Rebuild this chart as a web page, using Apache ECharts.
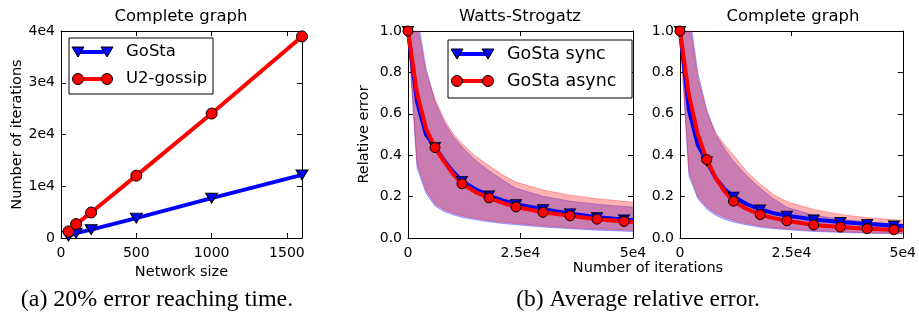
<!DOCTYPE html>
<html>
<head>
<meta charset="utf-8">
<script src="https://cdn.jsdelivr.net/npm/echarts@6/dist/echarts.min.js"></script>
<style>
html, body { margin: 0; padding: 0; background: #fff; }
#chart { width: 919px; height: 313px; }
</style>
</head>
<body>
<div id="chart"></div>
<script>
// (a) iterations needed to reach 20% error, complete graph
var networkSize = [50, 100, 200, 500, 1000, 1600];
var gostaIter = [380, 960, 1620, 3850, 7700, 12200];
var u2Iter = [1270, 2690, 4920, 12050, 24050, 38950];

// (b) average relative error vs iterations
var iterations = [0, 2000, 4000, 6000, 8000, 10000, 12000, 15000, 18000, 21000, 24000, 30000, 36000, 42000, 48000, 50000];

// Watts-Strogatz
var wsSyncMean  = [1.0, 0.66, 0.50, 0.44, 0.375, 0.32, 0.276, 0.235, 0.205, 0.182, 0.163, 0.139, 0.119, 0.100, 0.089, 0.086];
var wsSyncLow   = [1.0, 0.34, 0.215, 0.155, 0.128, 0.112, 0.100, 0.088, 0.078, 0.070, 0.064, 0.053, 0.045, 0.038, 0.033, 0.031];
var wsSyncHigh  = [1.0, 1.08, 0.82, 0.66, 0.56, 0.49, 0.44, 0.375, 0.325, 0.28, 0.24, 0.202, 0.178, 0.163, 0.152, 0.15];
var wsAsyncMean = [1.0, 0.70, 0.53, 0.437, 0.37, 0.31, 0.262, 0.222, 0.194, 0.170, 0.150, 0.124, 0.107, 0.091, 0.080, 0.077];
var wsAsyncLow  = [1.0, 0.36, 0.23, 0.165, 0.137, 0.120, 0.108, 0.095, 0.085, 0.077, 0.070, 0.059, 0.050, 0.044, 0.039, 0.037];
var wsAsyncHigh = [1.0, 1.04, 0.80, 0.67, 0.575, 0.505, 0.455, 0.395, 0.35, 0.305, 0.27, 0.232, 0.207, 0.19, 0.177, 0.173];

// Complete graph
var cgSyncMean  = [1.0, 0.62, 0.45, 0.37, 0.29, 0.235, 0.200, 0.163, 0.138, 0.120, 0.108, 0.089, 0.077, 0.068, 0.060, 0.058];
var cgSyncLow   = [1.0, 0.30, 0.19, 0.14, 0.11, 0.090, 0.077, 0.063, 0.052, 0.045, 0.040, 0.032, 0.027, 0.023, 0.020, 0.019];
var cgSyncHigh  = [1.0, 1.10, 0.80, 0.62, 0.50, 0.43, 0.37, 0.30, 0.24, 0.19, 0.148, 0.11, 0.09, 0.078, 0.068, 0.066];
var cgAsyncMean = [1.0, 0.69, 0.50, 0.379, 0.29, 0.225, 0.178, 0.140, 0.113, 0.096, 0.083, 0.063, 0.053, 0.045, 0.040, 0.038];
var cgAsyncLow  = [1.0, 0.32, 0.20, 0.15, 0.12, 0.100, 0.085, 0.070, 0.058, 0.050, 0.045, 0.036, 0.030, 0.026, 0.023, 0.022];
var cgAsyncHigh = [1.0, 1.06, 0.77, 0.61, 0.51, 0.45, 0.40, 0.32, 0.26, 0.21, 0.175, 0.138, 0.114, 0.098, 0.088, 0.085];

var markEvery = 6000;
var FONT = 'DejaVu Sans';
var BLUE = '#0000ff', RED = '#ff0000';
var BLUE_A = 'rgba(0,0,255,0.3)', RED_A = 'rgba(255,0,0,0.3)';

function axisPair(dim, gridIndex, min, max, interval, fmt, name, nameGap, hideMax) {
    var base = {
        type: 'value', gridIndex: gridIndex, min: min, max: max, interval: interval,
        splitLine: { show: false },
        axisLine: { show: true, onZero: false, lineStyle: { color: '#000', width: 1 } },
        axisTick: { show: true, inside: true, length: 5, lineStyle: { color: '#000', width: 1 } }
    };
    var main = Object.assign({}, base, {
        position: dim === 'x' ? 'bottom' : 'left',
        axisLabel: { color: '#000', fontFamily: FONT, fontSize: 14, margin: dim === 'x' ? 8 : 6,
                     formatter: fmt, showMaxLabel: !hideMax },
        name: name, nameLocation: 'middle', nameGap: nameGap,
        nameTextStyle: { color: '#000', fontFamily: FONT, fontSize: 14.5 }
    });
    var other = Object.assign({}, base, {
        position: dim === 'x' ? 'top' : 'right',
        axisLabel: { show: false }
    });
    return [main, other];
}

function plain(v) { return String(v); }
function e4(v) { return v === 0 ? '0' : (v / 1e4) + 'e4'; }
function oneDec(v) { return v.toFixed(1); }

var xAxes = [].concat(
    axisPair('x', 0, 0, 1600, 500, plain, 'Network size', 22, true),
    axisPair('x', 1, 0, 50000, 25000, e4, '', 0),
    axisPair('x', 2, 0, 50000, 25000, e4, '', 0)
);
var yAxes = [].concat(
    axisPair('y', 0, 0, 40000, 10000, e4, 'Number of iterations', 34),
    axisPair('y', 1, 0, 1, 0.2, oneDec, 'Relative error', 36),
    axisPair('y', 2, 0, 1, 0.2, oneDec, '', 0)
);

function meanLine(name, xs, ys, color, symbol, g, size, every) {
    var data = xs.map(function(x, i) {
        var item = { value: [x, ys[i]] };
        if (every && x % every !== 0) item.symbol = 'none';
        return item;
    });
    return {
        type: 'line', name: name, xAxisIndex: 2 * g, yAxisIndex: 2 * g,
        data: data, symbol: symbol,
        symbolSize: symbol === 'circle' ? size : [size, size * 0.82],
        symbolRotate: symbol === 'triangle' ? 180 : 0,
        showSymbol: true,
        itemStyle: { color: color, borderColor: '#000', borderWidth: 1 },
        lineStyle: { color: color, width: 4 },
        z: 3
    };
}

// shaded band between low and high, drawn once as one polygon through the axes
function band(xs, low, high, fill, g) {
    return {
        type: 'custom', xAxisIndex: 2 * g, yAxisIndex: 2 * g, z: 1,
        data: xs.map(function(x, i) { return [x, low[i], high[i]]; }),
        encode: { x: 0, y: [1, 2] },
        renderItem: function(params, api) {
            if (params.dataIndex !== 0) return;
            var top = xs.map(function(x, i) { return api.coord([x, high[i]]); });
            var bot = xs.map(function(x, i) { return api.coord([x, low[i]]); });
            var poly = top.concat(bot.slice().reverse());
            var cs = params.coordSys;
            return {
                type: 'group',
                clipPath: { type: 'rect', shape: { x: cs.x, y: cs.y, width: cs.width, height: cs.height } },
                children: [
                    { type: 'polygon', shape: { points: poly }, style: { fill: fill } },
                    { type: 'polyline', shape: { points: top }, style: { stroke: fill, lineWidth: 1, fill: null } },
                    { type: 'polyline', shape: { points: bot }, style: { stroke: fill, lineWidth: 1, fill: null } }
                ]
            };
        }
    };
}

var series = [
    meanLine('GoSta', networkSize, gostaIter, BLUE, 'triangle', 0, 12),
    meanLine('U2-gossip', networkSize, u2Iter, RED, 'circle', 0, 11),
    band(iterations, wsSyncLow, wsSyncHigh, BLUE_A, 1),
    band(iterations, wsAsyncLow, wsAsyncHigh, RED_A, 1),
    meanLine('GoSta sync', iterations, wsSyncMean, BLUE, 'triangle', 1, 11, markEvery),
    meanLine('GoSta async', iterations, wsAsyncMean, RED, 'circle', 1, 10, markEvery),
    band(iterations, cgSyncLow, cgSyncHigh, BLUE_A, 2),
    band(iterations, cgAsyncLow, cgAsyncHigh, RED_A, 2),
    meanLine('GoSta sync', iterations, cgSyncMean, BLUE, 'triangle', 2, 11, markEvery),
    meanLine('GoSta async', iterations, cgAsyncMean, RED, 'circle', 2, 10, markEvery)
];

function text(str, x, y, size, family, align) {
    return { type: 'text', x: x, y: y, z: 100,
             style: { text: str, fill: '#000', fontSize: size, fontFamily: family || FONT,
                      align: align || 'center', verticalAlign: 'middle' } };
}

function legend(box, x1, x2, tx, rows, fontSize) {
    var els = [{ type: 'rect', z: 100, shape: box,
                 style: { fill: '#fff', stroke: '#000', lineWidth: 1 } }];
    rows.forEach(function(r) {
        els.push({ type: 'line', z: 101, shape: { x1: x1, y1: r.y, x2: x2, y2: r.y },
                   style: { stroke: r.color, lineWidth: 4 } });
        [x1, x2].forEach(function(cx) {
            if (r.symbol === 'circle') {
                els.push({ type: 'circle', z: 102, shape: { cx: cx, cy: r.y, r: 5.5 },
                           style: { fill: r.color, stroke: '#000', lineWidth: 1 } });
            } else {
                els.push({ type: 'polygon', z: 102,
                           shape: { points: [[cx - 6, r.y - 5], [cx + 6, r.y - 5], [cx, r.y + 5]] },
                           style: { fill: r.color, stroke: '#000', lineWidth: 1 } });
            }
        });
        els.push(text(r.label, tx, r.y, fontSize, FONT, 'left'));
    });
    return els;
}

var graphic = [].concat(
    [text('Complete graph', 181, 17, 16.5),
     text('Watts-Strogatz', 520, 17, 16.5),
     text('Complete graph', 793, 17, 16.5),
     text('Number of iterations', 648, 268, 14.5),
     text('(a) 20% error reaching time.', 157, 300, 24, 'Liberation Serif'),
     text('(b) Average relative error.', 638, 300, 23.5, 'Liberation Serif')],
    legend({ x: 69, y: 38, width: 144, height: 56 }, 78, 107, 126,
           [{ label: 'GoSta', color: BLUE, symbol: 'triangle', y: 52 },
            { label: 'U2-gossip', color: RED, symbol: 'circle', y: 79 }], 16.5),
    legend({ x: 448, y: 40, width: 184, height: 58 }, 457, 488, 507,
           [{ label: 'GoSta sync', color: BLUE, symbol: 'triangle', y: 54 },
            { label: 'GoSta async', color: RED, symbol: 'circle', y: 81 }], 17.5)
);

var option = {
    animation: false,
    backgroundColor: '#fff',
    grid: [
        { left: 61, right: 617, top: 31, bottom: 75 },
        { left: 408, right: 286, top: 31, bottom: 75 },
        { left: 680, right: 13, top: 31, bottom: 75 }
    ],
    xAxis: xAxes,
    yAxis: yAxes,
    series: series,
    graphic: graphic
};

var myChart = echarts.init(document.getElementById('chart'));
myChart.setOption(option);
</script>
</body>
</html>
